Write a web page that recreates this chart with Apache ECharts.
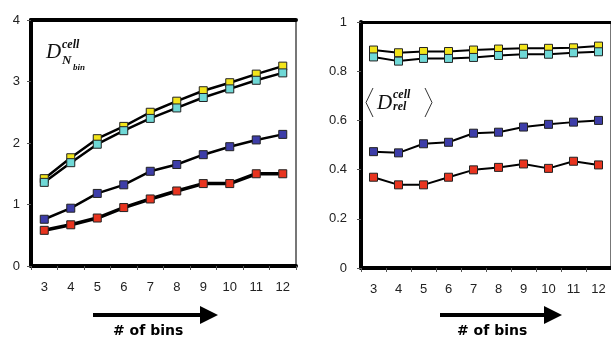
<!DOCTYPE html>
<html><head><meta charset="utf-8">
<script src="https://cdn.jsdelivr.net/npm/echarts@6/dist/echarts.min.js"></script>
<style>html,body{margin:0;padding:0;background:#fff}#c{width:611px;height:338px}</style>
</head><body><div id="c"></div>
<script>
const bins = ['3','4','5','6','7','8','9','10','11','12'];
// Left panel: D_N_bin^cell
const leftYellow = [1.42, 1.76, 2.07, 2.27, 2.50, 2.68, 2.85, 2.98, 3.12, 3.25];
const leftCyan   = [1.36, 1.68, 1.98, 2.20, 2.40, 2.57, 2.74, 2.88, 3.02, 3.14];
const leftBlue   = [0.76, 0.94, 1.18, 1.32, 1.54, 1.65, 1.81, 1.94, 2.05, 2.14];
const leftRed    = [0.58, 0.67, 0.78, 0.95, 1.09, 1.22, 1.34, 1.34, 1.50, 1.50];
// Right panel: <D_rel^cell>
const rightYellow = [0.886, 0.875, 0.880, 0.880, 0.886, 0.890, 0.893, 0.893, 0.895, 0.902];
const rightCyan   = [0.858, 0.841, 0.852, 0.852, 0.856, 0.864, 0.869, 0.869, 0.875, 0.879];
const rightBlue   = [0.473, 0.468, 0.505, 0.511, 0.548, 0.552, 0.573, 0.584, 0.593, 0.600];
const rightRed    = [0.369, 0.338, 0.338, 0.369, 0.399, 0.409, 0.423, 0.405, 0.434, 0.419];
const leftTicks = [0, 1, 2, 3, 4];
const rightTicks = [0, 0.2, 0.4, 0.6, 0.8, 1];

const colors = {yellow:'#f2e41a', cyan:'#6fd8d6', blue:'#3d3da8', red:'#e8341f'};
const labelFont = {color:'#222', fontSize:13, fontFamily:'"Liberation Sans Narrow", "Liberation Sans", Arial, sans-serif'};

function mk(name, data, color, xi, yi, lw) {
  return {
    type:'line', name, data, xAxisIndex:xi, yAxisIndex:yi,
    symbol:'rect', symbolSize:8, z: 3,
    lineStyle:{color:'#000', width:lw},
    itemStyle:{color, borderColor:'#222', borderWidth:1},
    emphasis:{disabled:true}
  };
}

const grids = [
  {left:31, right:315, top:20, bottom:72, show:false},
  {left:361, width:253, top:22, bottom:70, show:false}
];

function xAx(gi) {
  return [
    {type:'category', gridIndex:gi, data:bins, boundaryGap:true,
     axisLine:{onZero:false, lineStyle:{color:'#000', width:4}},
     axisTick:{show:true, length:4, lineStyle:{color:'#555', width:1}},
     axisLabel:Object.assign({margin:15}, labelFont)},
    {type:'category', gridIndex:gi, data:bins, position:'top',
     axisLine:{show:true, onZero:false, lineStyle:{color:'#000', width: gi===0?4:3}},
     axisTick:{show:false}, axisLabel:{show:false}}
  ];
}
function yAx(gi, max, interval, ticks) {
  return [
    {type:'value', gridIndex:gi, min:0, max, interval,
     axisLine:{show:true, onZero:false, lineStyle:{color:'#000', width:4}},
     axisTick:{show:true, length:4, lineStyle:{color:'#555', width:1}},
     splitLine:{show:false},
     axisLabel:Object.assign({margin: gi===0?11:14, formatter:v=>String(+v.toFixed(1))}, labelFont)},
    {type:'value', gridIndex:gi, min:0, max, interval, position:'right',
     axisLine:{show:true, onZero:false, lineStyle:{color:'#777', width:2}},
     axisTick:{show:false}, axisLabel:{show:false}, splitLine:{show:false}}
  ];
}

const italic = 'Liberation Serif, "Times New Roman", serif';
const chart = echarts.init(document.getElementById('c'), null, {renderer:'canvas'});
chart.setOption({
  animation:false,
  grid: grids,
  xAxis: [...xAx(0), ...xAx(1)],
  yAxis: [...yAx(0, 4, 1, leftTicks), ...yAx(1, 1, 0.2, rightTicks)],
  series: [
    mk('L yellow', leftYellow, colors.yellow, 0, 0, 2.5),
    mk('L cyan', leftCyan, colors.cyan, 0, 0, 2.5),
    mk('L blue', leftBlue, colors.blue, 0, 0, 2.5),
    mk('L red', leftRed, colors.red, 0, 0, 3.5),
    mk('R yellow', rightYellow, colors.yellow, 2, 2, 2),
    mk('R cyan', rightCyan, colors.cyan, 2, 2, 2),
    mk('R blue', rightBlue, colors.blue, 2, 2, 2),
    mk('R red', rightRed, colors.red, 2, 2, 2)
  ],
  graphic: [
    // left formula label
    {type:'text', left:46, top:42, style:{text:'D', font:'italic 21px '+italic, fill:'#111'}},
    {type:'text', left:62, top:39, style:{text:'cell', font:'italic bold 12px '+italic, fill:'#111'}},
    {type:'text', left:62, top:54, style:{text:'N', font:'italic bold 13px '+italic, fill:'#111'}},
    {type:'text', left:73, top:63, style:{text:'bin', font:'italic bold 9px '+italic, fill:'#111'}},
    // right formula label
    {type:'polyline', shape:{points:[[373,88],[366,102.5],[373,117]]}, style:{stroke:'#333', lineWidth:1, fill:null}},
    {type:'polyline', shape:{points:[[425,88],[432,102.5],[425,117]]}, style:{stroke:'#333', lineWidth:1, fill:null}},
    {type:'text', left:377, top:93, style:{text:'D', font:'italic 21px '+italic, fill:'#111'}},
    {type:'text', left:393, top:89, style:{text:'cell', font:'italic bold 12px '+italic, fill:'#111'}},
    {type:'text', left:393, top:101, style:{text:'rel', font:'italic bold 12px '+italic, fill:'#111'}},
    // arrows
    {type:'polygon', shape:{points:[[93,313],[200,313],[200,306],[218,315],[200,324],[200,317],[93,317]]}, style:{fill:'#000'}},
    {type:'polygon', shape:{points:[[440,313],[544,313],[544,306],[562,315],[544,324],[544,317],[440,317]]}, style:{fill:'#000'}},
    {type:'text', left:113, top:324, style:{text:'# of bins', font:'bold 14px "DejaVu Sans", sans-serif', fill:'#000'}},
    {type:'text', left:457, top:324, style:{text:'# of bins', font:'bold 14px "DejaVu Sans", sans-serif', fill:'#000'}}
  ]
});
</script></body></html>
